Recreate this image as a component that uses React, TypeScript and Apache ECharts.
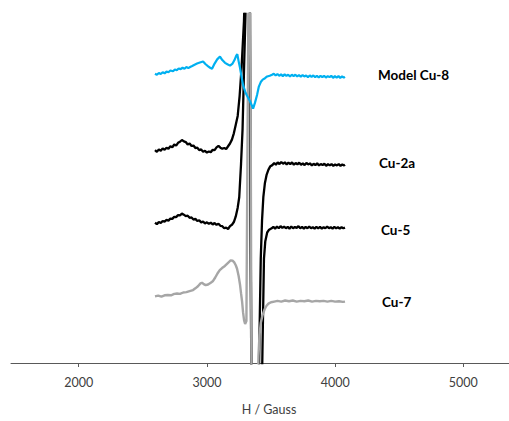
import React, { useEffect, useRef } from "react";
import * as echarts from "echarts";

// x axis (field, Gauss)
const xMin = 1472;
const xMax = 5356;
const xTickValues = [2000, 3000, 4000, 5000];
const axisTitle = "H / Gauss";

const seriesNames = ["Cu-2a", "Cu-5", "Cu-7", "Model Cu-8"];

// [field (G), relative intensity] – spectra offset vertically, off-scale parts clipped
const cu2a: number[][] = [
  [2595, 61.0], [2610, 60.5], [2625, 61.2], [2640, 60.8], [2655, 61.5], [2670, 61.1], [2685, 61.7],
  [2700, 61.4], [2715, 62.1], [2730, 61.8], [2745, 62.6], [2760, 62.3], [2775, 63.1], [2790, 63.4],
  [2805, 63.9], [2820, 63.5], [2835, 63.3], [2850, 62.6], [2865, 62.9], [2880, 62.2], [2895, 62.3],
  [2910, 61.6], [2925, 61.7], [2940, 61.0], [2955, 61.2], [2970, 60.5], [2985, 60.8], [3000, 60.3],
  [3015, 60.6], [3030, 60.4], [3045, 61.1], [3060, 61.0], [3075, 61.8], [3090, 62.2], [3105, 61.7],
  [3120, 61.4], [3135, 61.6], [3150, 61.3], [3165, 62.1], [3180, 62.9], [3195, 64.0], [3210, 65.8],
  [3225, 68.3], [3240, 70.8], [3255, 76.5], [3270, 84.5], [3289, 98], [3330, 150], [3334, 150],
  [3350, -40], [3392, -40], [3410, 8], [3420, 30], [3430, 41], [3440, 47.5], [3452, 51.5], [3466, 54],
  [3480, 55.4], [3495, 56.4], [3510, 56.7], [3525, 57.3], [3538, 56.8], [3552, 57.5], [3566, 57.0],
  [3580, 57.6], [3594, 57.1], [3608, 57.5], [3622, 56.9], [3636, 57.4], [3650, 57.0], [3664, 57.5],
  [3678, 56.8], [3692, 57.3], [3706, 56.9], [3720, 57.4], [3734, 56.8], [3748, 57.2], [3762, 56.7],
  [3776, 57.3], [3790, 56.9], [3804, 57.2], [3818, 56.6], [3832, 57.1], [3846, 56.7], [3860, 57.2],
  [3874, 56.6], [3888, 57.0], [3902, 56.7], [3916, 57.1], [3930, 56.5], [3944, 57.0], [3958, 56.6],
  [3972, 57.0], [3986, 56.5], [4000, 56.9], [4014, 56.6], [4028, 57.0], [4042, 56.5], [4056, 56.9],
  [4070, 56.6], [4077, 56.8],
];

const cu5: number[][] = [
  [2595, 40.2], [2610, 39.8], [2625, 40.4], [2640, 40.1], [2655, 40.7], [2670, 40.5], [2685, 41.0],
  [2700, 40.8], [2715, 41.4], [2730, 41.3], [2745, 41.9], [2760, 41.8], [2775, 42.4], [2790, 42.3],
  [2805, 42.8], [2820, 42.5], [2835, 42.1], [2850, 42.2], [2865, 41.6], [2880, 41.7], [2895, 41.1],
  [2910, 41.3], [2925, 40.7], [2940, 40.9], [2955, 40.3], [2970, 40.5], [2985, 40.0], [3000, 40.3],
  [3015, 39.9], [3030, 40.2], [3045, 39.7], [3060, 40.1], [3075, 39.6], [3090, 39.9], [3105, 39.3],
  [3120, 39.2], [3135, 38.6], [3150, 38.8], [3165, 38.4], [3180, 39.2], [3195, 39.6], [3210, 40.4],
  [3225, 42.0], [3240, 44.5], [3252, 47.5], [3266, 57], [3278, 67], [3290, 85], [3330, 140],
  [3334, 140], [3350, -40], [3415, -40], [3433, 3], [3445, 30], [3455, 34.8], [3470, 37.4],
  [3485, 38.2], [3505, 38.6], [3518, 39.0], [3532, 38.5], [3546, 39.1], [3560, 38.6], [3574, 39.2],
  [3588, 38.7], [3602, 39.1], [3616, 38.6], [3630, 39.0], [3644, 38.5], [3658, 39.1], [3672, 38.6],
  [3686, 39.0], [3700, 38.7], [3714, 39.2], [3728, 38.6], [3742, 39.0], [3756, 38.5], [3770, 39.0],
  [3784, 38.6], [3798, 39.1], [3812, 38.6], [3826, 38.9], [3840, 38.5], [3854, 39.0], [3868, 38.6],
  [3882, 39.0], [3896, 38.5], [3910, 38.9], [3924, 38.6], [3938, 39.1], [3952, 38.6], [3966, 38.9],
  [3980, 38.5], [3994, 39.0], [4008, 38.6], [4022, 38.9], [4036, 38.5], [4050, 38.9], [4064, 38.6],
  [4077, 38.8],
];

const cu7: number[][] = [
  [2595, 19.1], [2620, 19.3], [2645, 19.0], [2670, 19.4], [2695, 19.5], [2720, 19.4], [2745, 19.8],
  [2767, 19.9], [2790, 19.8], [2815, 20.2], [2840, 20.3], [2865, 20.6], [2892, 20.9], [2910, 21.4],
  [2930, 22.0], [2950, 22.8], [2962, 23.0], [2975, 22.6], [2990, 22.3], [3009, 22.5], [3030, 23.0],
  [3048, 23.5], [3065, 24.5], [3085, 25.8], [3100, 26.6], [3118, 27.2], [3140, 27.8], [3165, 28.7],
  [3185, 29.4], [3200, 29.3], [3212, 28.9], [3225, 28.0], [3235, 27.0], [3247, 25.0], [3258, 22.5],
  [3266, 20.0], [3274, 17.7], [3282, 14.5], [3290, 12.2], [3298, 11.2], [3308, 12], [3330, 140],
  [3336, 140], [3350, -40], [3385, -40], [3402, 2], [3410, 8], [3420, 11.5], [3435, 13.8],
  [3450, 15.4], [3465, 16.4], [3480, 17.0], [3500, 17.4], [3525, 17.6], [3550, 17.8], [3580, 17.6],
  [3610, 17.9], [3640, 17.7], [3670, 17.9], [3700, 17.6], [3730, 17.8], [3760, 17.7], [3790, 17.9],
  [3820, 17.6], [3850, 17.8], [3880, 17.7], [3910, 17.8], [3940, 17.6], [3970, 17.8], [4000, 17.6],
  [4030, 17.7], [4060, 17.5], [4077, 17.6],
];

const cu8: number[][] = [
  [2595, 82.9], [2610, 82.6], [2625, 83.1], [2640, 82.8], [2655, 83.3], [2670, 83.0], [2685, 83.5],
  [2700, 83.3], [2715, 83.8], [2736, 83.6], [2750, 84.1], [2765, 83.9], [2780, 84.4], [2795, 84.2],
  [2810, 84.6], [2825, 84.3], [2840, 84.8], [2855, 84.5], [2869, 84.8], [2885, 85.1], [2900, 85.4],
  [2923, 85.8], [2945, 86.1], [2970, 86.4], [2990, 85.6], [3010, 85.0], [3025, 84.6], [3040, 84.3],
  [3060, 85.8], [3080, 87.0], [3102, 87.8], [3120, 86.8], [3141, 86.0], [3160, 85.6], [3180, 85.2],
  [3200, 85.8], [3215, 86.8], [3228, 88.0], [3237, 88.5], [3247, 86.5], [3258, 84.6], [3270, 82.0],
  [3282, 79.6], [3300, 77.6], [3313, 76.6], [3336, 75.0], [3350, 73.8], [3360, 72.9], [3375, 74.6],
  [3391, 76.8], [3405, 79.2], [3420, 80.5], [3435, 81.2], [3453, 81.6], [3470, 82.1], [3490, 82.3],
  [3508, 82.6], [3522, 82.9], [3536, 82.4], [3550, 82.8], [3564, 82.3], [3578, 82.7], [3592, 82.2],
  [3606, 82.7], [3620, 82.3], [3634, 82.6], [3648, 82.1], [3662, 82.6], [3676, 82.2], [3690, 82.6],
  [3704, 82.1], [3718, 82.5], [3732, 82.0], [3746, 82.5], [3760, 82.1], [3774, 82.4], [3788, 81.9],
  [3802, 82.4], [3816, 82.0], [3830, 82.4], [3844, 81.9], [3858, 82.3], [3872, 81.8], [3886, 82.3],
  [3900, 81.9], [3914, 82.3], [3928, 81.8], [3942, 82.2], [3956, 81.9], [3970, 82.3], [3984, 81.7],
  [3998, 82.2], [4012, 81.8], [4026, 82.2], [4040, 81.7], [4054, 82.1], [4068, 81.8], [4077, 82.0],
];

const seriesData = [cu2a, cu5, cu7, cu8];
const seriesColors = ["#000000", "#000000", "#a6a6a6", "#00b0f0"];
const seriesWidths = [2.3, 2.3, 2.4, 2.2];
const labelDistance = [34, 36, 37, 33];
const labelOffsetY = [-2, 2, 0, -2];

const FONT = "Lato, 'Open Sans', sans-serif";

export default function App() {
  const ref = useRef<HTMLDivElement>(null);
  useEffect(() => {
    if (!ref.current) return;
    const chart = echarts.init(ref.current, null, { renderer: "svg", width: 509, height: 421 });
    chart.setOption({
      animation: false,
      backgroundColor: "#ffffff",
      textStyle: { fontFamily: FONT },
      grid: { left: 11, right: 0, top: 14, bottom: 51, containLabel: false },
      xAxis: {
        type: "value",
        min: xMin,
        max: xMax,
        name: axisTitle,
        nameLocation: "middle",
        nameGap: 40,
        nameTextStyle: { fontFamily: FONT, fontSize: 12.5, color: "#404040", padding: [0, 0, 0, 18] },
        axisLine: { show: true, lineStyle: { color: "#595959", width: 1 } },
        axisTick: { show: true, length: 4, customValues: xTickValues, lineStyle: { color: "#595959" } },
        axisLabel: {
          show: true,
          customValues: xTickValues,
          formatter: (v: number) => String(v),
          margin: 13,
          fontFamily: FONT,
          fontSize: 12.5,
          color: "#404040",
        },
        splitLine: { show: false },
      },
      yAxis: { type: "value", min: 0, max: 100, show: false, splitLine: { show: false } },
      series: seriesNames.map((name, i) => ({
        name,
        type: "line",
        data: seriesData[i],
        showSymbol: false,
        symbol: "none",
        clip: true,
        z: 2 + i,
        lineStyle: { color: seriesColors[i], width: seriesWidths[i] },
        endLabel: {
          show: true,
          formatter: "{a}",
          distance: labelDistance[i],
          offset: [0, labelOffsetY[i]],
          color: "#000000",
          fontFamily: FONT,
          fontWeight: "bold",
          fontSize: 13.5,
        },
        emphasis: { disabled: true },
      })),
    });
    return () => chart.dispose();
  }, []);
  return (
    <div
      ref={ref}
      style={{ position: "absolute", left: 0, top: 0, width: 509, height: 421 }}
    />
  );
}
